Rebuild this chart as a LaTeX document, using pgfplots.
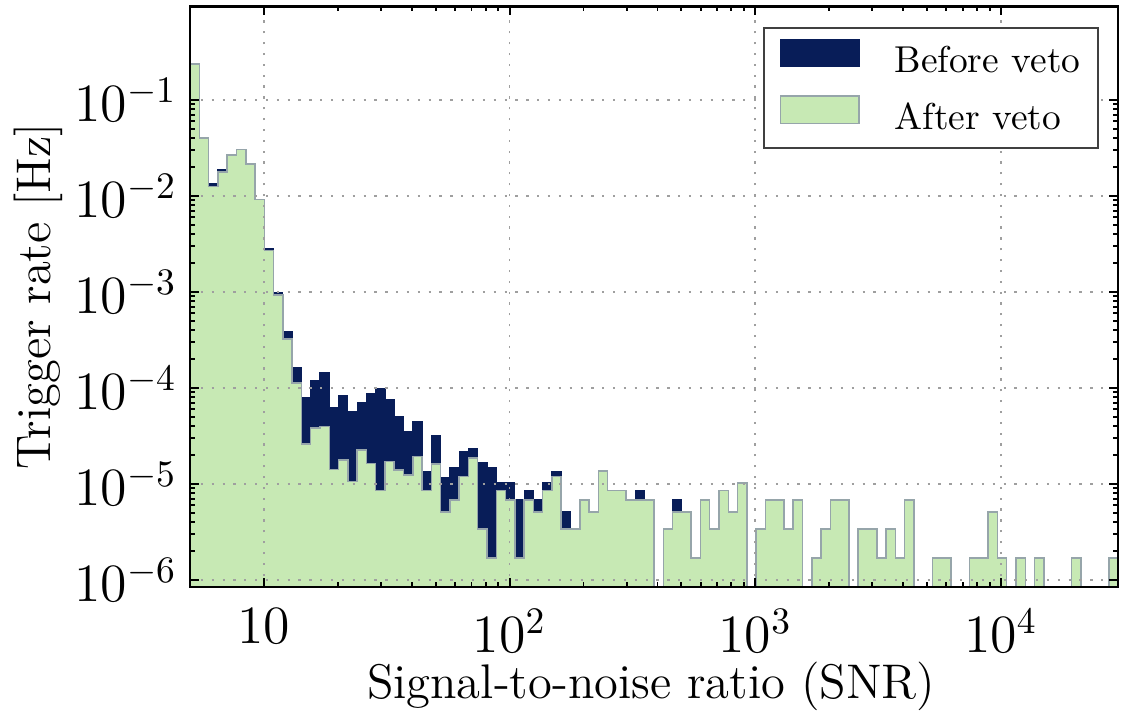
\documentclass[border=0pt]{standalone}
\usepackage{pgfplots}
\usepackage{pgfplotstable}
\pgfplotsset{compat=1.18}

\definecolor{vetonavy}{HTML}{081D58}
\definecolor{vetogreen}{HTML}{C7E9B4}
\definecolor{vetoedge}{RGB}{150,165,170}

% bin left edges (log spaced, 100 bins from 5 to 3e4) and trigger rates in Hz
% 1e-7 marks an empty bin (below the axis)
\pgfplotstableread{
edge     before   after
5.000    1e-7     1e-7
5.000    0.237    0.237
5.455    0.0399   0.0399
5.952    0.0133   0.0125
6.494    0.0187   0.0177
7.085    0.0267   0.0267
7.730    0.0306   0.0306
8.433    0.0215   0.0215
9.193    0.00923  0.00923
10.028   0.00281  0.00269
10.940   9.93e-4  9.3e-4
11.936   3.85e-4  3.24e-4
13.022   1.63e-4  1.12e-4
14.207   8.0e-5   2.61e-5
15.500   1.19e-4  3.80e-5
16.911   1.46e-4  3.96e-5
18.450   6.30e-5  1.42e-5
20.12    8.26e-5  1.78e-5
21.95    5.66e-5  1.06e-5
23.95    7.03e-5  2.26e-5
26.12    8.79e-5  1.64e-5
28.50    9.93e-5  8.5e-6
31.09    7.5e-5   1.71e-5
33.92    5.02e-5  1.40e-5
37.01    3.51e-5  1.24e-5
40.37    4.46e-5  1.93e-5
44.04    1.34e-5  8.5e-6
48.05    3.16e-5  1.61e-5
52.38    1.17e-5  5.1e-6
57.15    1.49e-5  6.8e-6
62.35    2.17e-5  1.19e-5
68.02    2.32e-5  1.87e-5
74.20    1.67e-5  3.4e-6
80.95    1.49e-5  1.7e-6
88.32    1.02e-5  8.5e-6
96.36    1.02e-5  6.8e-6
105.1    6.8e-6   1.7e-6
114.6    8.5e-6   6.8e-6
125.1    6.8e-6   5.1e-6
136.4    1.02e-5  8.5e-6
148.8    1.36e-5  1.19e-5
162.3    5.1e-6   3.4e-6
177.1    3.4e-6   3.4e-6
193.2    6.8e-6   6.8e-6
210.8    5.1e-6   5.1e-6
229.9    1.36e-5  1.36e-5
250.8    8.5e-6   8.5e-6
273.6    8.5e-6   8.5e-6
298.5    6.8e-6   6.8e-6
325.6    8.5e-6   6.8e-6
355.2    6.8e-6   6.8e-6
387.5    1e-7     1e-7
422.7    3.4e-6   3.4e-6
461.1    6.8e-6   5.1e-6
503.0    5.1e-6   5.1e-6
548.7    1.7e-6   1.7e-6
598.6    6.8e-6   6.8e-6
653.0    3.4e-6   3.4e-6
712.3    8.5e-6   8.5e-6
777.1    5.1e-6   5.1e-6
847.7    1.02e-5  1.02e-5
924.8    1e-7     1e-7
1008.5   3.4e-6   3.4e-6
1100.2   6.8e-6   6.8e-6
1200.2   6.8e-6   6.8e-6
1309.3   3.4e-6   3.4e-6
1428.3   6.8e-6   6.8e-6
1558.1   1e-7     1e-7
1699.8   1.7e-6   1.7e-6
1854.3   3.4e-6   3.4e-6
2022.9   6.8e-6   6.8e-6
2206.8   6.8e-6   6.8e-6
2407.4   1e-7     1e-7
2626.2   3.4e-6   3.4e-6
2864.9   3.4e-6   3.4e-6
3125.4   1.7e-6   1.7e-6
3409.5   3.4e-6   3.4e-6
3719.5   1.7e-6   1.7e-6
4057.6   6.8e-6   6.8e-6
4426.4   1e-7     1e-7
4828.8   1e-7     1e-7
5267.7   1.7e-6   1.7e-6
5746.6   1.7e-6   1.7e-6
6269.1   1e-7     1e-7
6838.9   1e-7     1e-7
7460.6   1.7e-6   1.7e-6
8138.8   1.7e-6   1.7e-6
8878.7   5.1e-6   5.1e-6
9685.8   1.7e-6   1.7e-6
10566    1e-7     1e-7
11527    1.7e-6   1.7e-6
12575    1e-7     1e-7
13718    1.7e-6   1.7e-6
14965    1e-7     1e-7
16325    1e-7     1e-7
17810    1e-7     1e-7
19429    1.7e-6   1.7e-6
21195    1e-7     1e-7
23122    1e-7     1e-7
25224    1e-7     1e-7
27517    1.7e-6   1.7e-6
30000    1.7e-6   1.7e-6
30000    1e-7     1e-7
}\ratetable

\begin{document}
\begin{tikzpicture}
\begin{axis}[
    scale only axis,
    width=248.1pt, height=155.1pt,
    xmode=log, ymode=log,
    xmin=5, xmax=30000,
    ymin=8.5e-7, ymax=0.94,
    xtick={10,100,1000,10000},
    xticklabels={$10$,$10^2$,$10^3$,$10^4$},
    ytick={1e-6,1e-5,1e-4,1e-3,1e-2,1e-1},
    tick label style={font=\fontsize{14}{16}\selectfont},
    xticklabel style={yshift=-2.5pt},
    label style={font=\fontsize{13}{15}\selectfont},
    xlabel={Signal-to-noise ratio (SNR)},
    ylabel={Trigger rate [Hz]},
    xlabel style={at={(axis description cs:0.497,-0.192)}, anchor=base},
    ylabel style={at={(axis description cs:-0.1637,0.5)}, anchor=center},
    axis line style={line width=0.6pt},
    tick style={black, line width=0.5pt},
    major tick length=2.4pt,
    minor tick length=1.3pt,
    grid=major,
    major grid style={gray!75, line width=0.4pt, dash pattern=on 0.6pt off 2.3pt},
    axis on top,
    legend cell align=left,
    legend image code/.code={\fill[#1] (0pt,-1.2pt) rectangle (21pt,6.1pt);},
    legend style={
        at={(1,1)}, anchor=north east, xshift=-5.1pt, yshift=-5.5pt,
        font=\fontsize{10}{12}\selectfont,
        draw=black!75, line width=0.4pt,
        inner xsep=4.3pt, inner ysep=3pt,
        column sep=8.8pt, row sep=4pt,
        nodes={inner sep=0.5pt},
    },
]
\addplot[const plot, fill=vetonavy, draw=vetonavy, line width=0.3pt]
    table[x=edge, y=before] {\ratetable} -- cycle;
\addlegendentry{Before veto}
\addplot[const plot, fill=vetogreen, draw=vetoedge, line width=0.4pt]
    table[x=edge, y=after] {\ratetable} -- cycle;
\addlegendentry{After veto}
\end{axis}
\pgfresetboundingbox
\path[use as bounding box]
    ([xshift=-50.8pt, yshift=-33.2pt]current axis.south west)
    rectangle ([xshift=1.07pt, yshift=1.74pt]current axis.north east);
\end{tikzpicture}
\end{document}
